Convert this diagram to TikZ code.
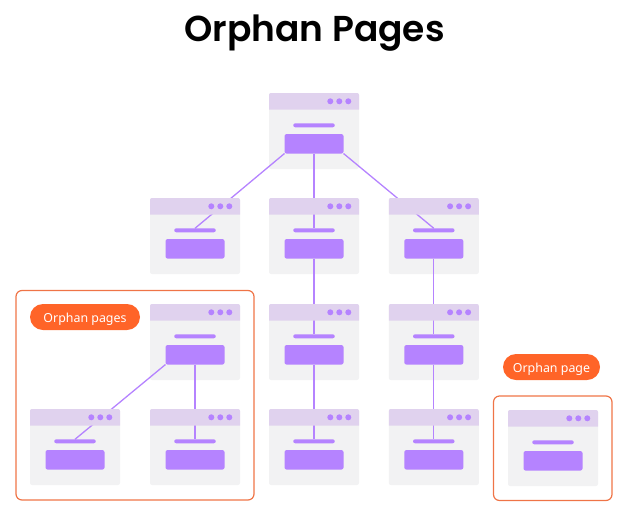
\documentclass[tikz,border=0pt]{standalone}
\usepackage{fontspec}
\setmainfont{Noto Sans}
\newfontfamily\titlefont{Poppins SemiBold}
\definecolor{pagebg}{HTML}{F2F2F3}
\definecolor{pagetop}{HTML}{E0D2EE}
\definecolor{pagepurple}{HTML}{B583FF}
\definecolor{pillorange}{HTML}{FF6428}
\definecolor{frameorange}{HTML}{EF7447}
\tikzset{
  pagebody/.style={fill=pagebg, rounded corners=2pt, minimum width=90pt, minimum height=76pt, inner sep=0pt, outer sep=0pt},
  pagebar/.style={fill=pagepurple, rounded corners=2pt, minimum width=41.5pt, minimum height=4pt, inner sep=0pt, outer sep=0pt},
  pagebtn/.style={fill=pagepurple, rounded corners=2pt, minimum width=59pt, minimum height=19.4pt, inner sep=0pt, outer sep=0pt},
  link/.style={draw=pagepurple, line width=1.3pt},
  orphanframe/.style={draw=frameorange, line width=1.2pt, rounded corners=6pt},
  pill/.style={fill=pillorange, text=white, rounded corners=13pt, minimum height=26pt, inner sep=0pt, text height=12pt, text depth=2pt, font=\fontsize{12.4}{14}\selectfont}
}
\begin{document}
\begin{tikzpicture}[x=1pt, y=-1pt]
  \useasboundingbox (0,0) rectangle (628,514);

  % Title
  \node[font=\titlefont\fontsize{36}{40}\selectfont] (title) at (314.5,33) {Orphan Pages};

  % Orphan frames
  \draw[orphanframe] (16,290.5) rectangle (254,500);
  \draw[orphanframe] (493.5,396) rectangle (612,500.5);

  % Page cards
  \foreach \n/\x/\y in {root/314/131, left/195/236, mid/314/236, right/433.8/236,
      midb/314/342, rightb/433.8/342, midc/314/447, rightc/433.8/447,
      orphan/195/342, orphana/75/447, orphanb/195/447, single/553/448} {
    \node[pagebody] (\n) at (\x,\y) {};
    \node[pagebar] (\n-bar) at (\x,\y-5.7) {};
    \node[pagebtn] (\n-btn) at (\x,\y+12.8) {};
  }

  % Links
  \draw[link] (root-btn.south west) -- (left-bar.north);
  \draw[link] (root-btn.south) -- (mid-bar.north);
  \draw[link] (root-btn.south east) -- (right-bar.north);
  \draw[link] (mid-btn.south) -- (midb-bar.north);
  \draw[link] (right-btn.south) -- (rightb-bar.north);
  \draw[link] (midb-btn.south) -- (midc-bar.north);
  \draw[link] (rightb-btn.south) -- (rightc-bar.north);
  \draw[link] (orphan-btn.south west) -- (orphana-bar.north);
  \draw[link] (orphan-btn.south) -- (orphanb-bar.north);

  % Window tops go over the links
  \foreach \n/\x/\y in {root/314/131, left/195/236, mid/314/236, right/433.8/236,
      midb/314/342, rightb/433.8/342, midc/314/447, rightc/433.8/447,
      orphan/195/342, orphana/75/447, orphanb/195/447, single/553/448} {
    \fill[pagetop] (\x-45,\y-21.3) [rounded corners=2pt] -- (\x-45,\y-38) -- (\x+45,\y-38) [sharp corners] -- (\x+45,\y-21.3) -- cycle;
    \foreach \d in {16.3,25.3,34.3}
      \fill[pagepurple] (\x+\d,\y-29.7) circle (3pt);
  }

  % Labels
  \node[pill, minimum width=110pt] (pagesl) at (85,317) {Orphan pages};
  \node[pill, minimum width=97pt] (pagel) at (551.5,367) {Orphan page};
\end{tikzpicture}
\end{document}
